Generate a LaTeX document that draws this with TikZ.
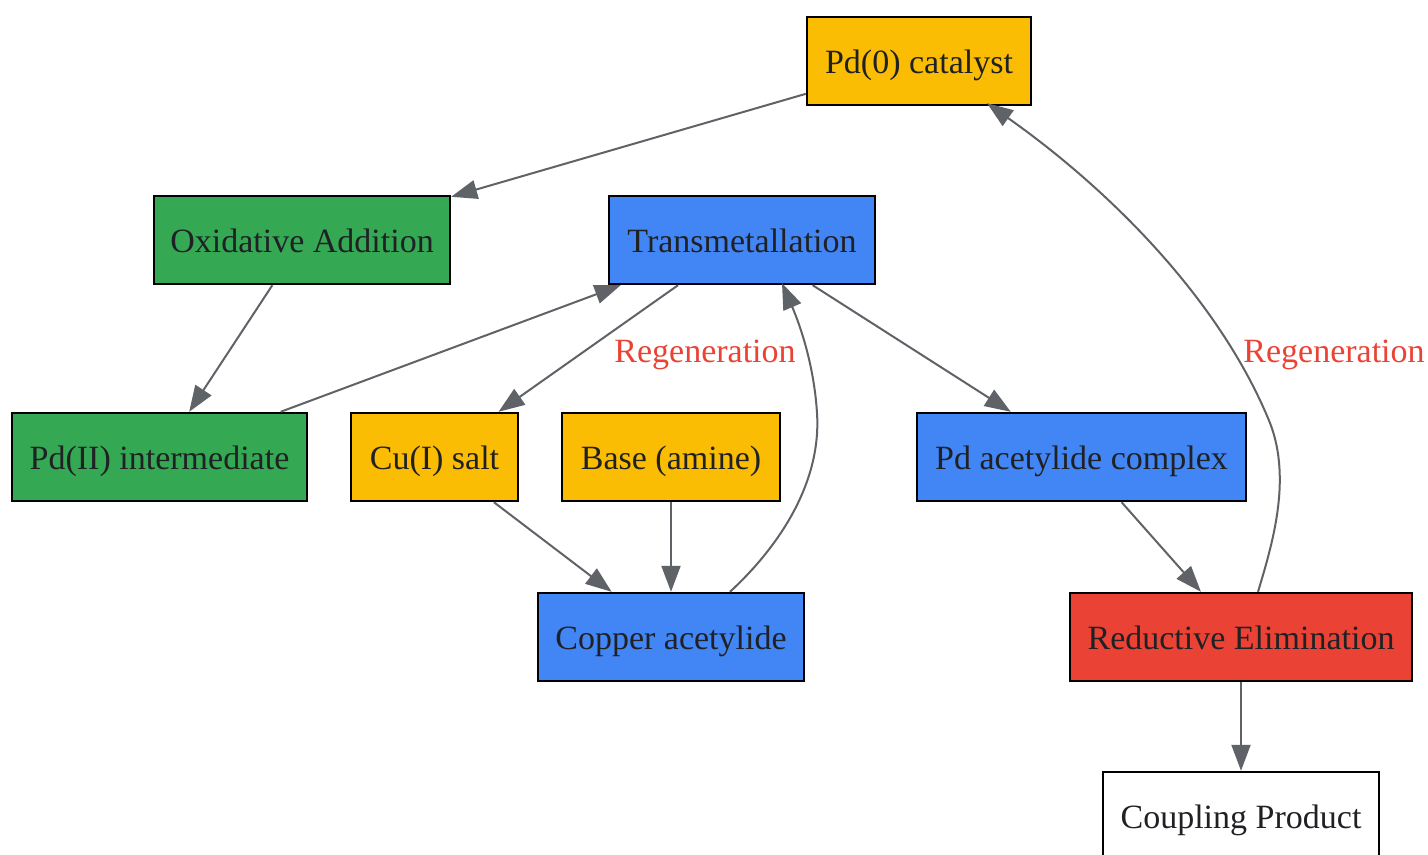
\documentclass[tikz,border=0pt]{standalone}
\usepackage{fontspec}
\setmainfont{Liberation Serif}
\usetikzlibrary{arrows.meta,calc}
\definecolor{gyellow}{HTML}{FBBC04}
\definecolor{ggreen}{HTML}{34A853}
\definecolor{gblue}{HTML}{4285F4}
\definecolor{gred}{HTML}{EA4335}
\definecolor{edgegray}{HTML}{5F6368}
\definecolor{txt}{HTML}{202124}
\tikzset{
  box/.style={draw=black, line width=1.2pt, rectangle, minimum height=44pt, inner sep=0pt,
    text height=16pt, text depth=3.6pt,
    text=txt, font=\fontsize{17}{20}\selectfont},
  conn/.style={draw=edgegray, line width=1pt, -{Triangle[length=13pt,width=9.5pt]}},
  lbl/.style={text=gred, font=\fontsize{17}{20}\selectfont, inner sep=0pt}
}
\begin{document}
\begin{tikzpicture}[x=0.5pt,y=-0.5pt]
\useasboundingbox (0,0) rectangle (1428,855);
\node[box, fill=gyellow, minimum width=112pt] (pd0) at (919,61) {Pd(0) catalyst};
\node[box, fill=ggreen, minimum width=148pt] (oxa) at (302,240) {Oxidative Addition};
\node[box, fill=gblue, minimum width=133pt] (trans) at (742,240) {Transmetallation};
\node[box, fill=ggreen, minimum width=147.5pt] (pd2) at (159.5,457) {Pd(II) intermediate};
\node[box, fill=gyellow, minimum width=83.5pt] (cu) at (434.5,457) {Cu(I) salt};
\node[box, fill=gyellow, minimum width=109pt] (base) at (671,457) {Base (amine)};
\node[box, fill=gblue, minimum width=164.5pt] (pdac) at (1081.5,457) {Pd acetylide complex};
\node[box, fill=gblue, minimum width=133pt] (cop) at (671,637) {Copper acetylide};
\node[box, fill=gred, minimum width=171pt] (red) at (1241,637) {Reductive Elimination};
\node[box, fill=white, minimum width=138pt] (prod) at (1241,816) {Coupling Product};

\draw[conn] (pd0) -- (oxa);
\draw[conn] (oxa) -- (pd2);
\draw[conn] (pd2) -- (trans);
\draw[conn] (trans) -- (cu);
\draw[conn] (cu) -- (cop);
\draw[conn] (base) -- (cop);
\draw[conn] (trans) -- (pdac);
\draw[conn] (pdac) -- (red);
\draw[conn] (red) -- (prod);

\coordinate (c7s) at ($(cop.north)+(59,0)$);
\coordinate (c7e) at ($(trans.south)+(40,-2)$);
\draw[conn] (c7s) .. controls (770,555) and (822,490) .. (817,413)
  .. controls (814,365) and (800,325) .. (c7e);

\coordinate (c10s) at ($(red.north)+(17,0)$);
\coordinate (c10e) at ($(pd0.south)+(68,-3)$);
\draw[conn] (c10s) .. controls (1272,545) and (1292,480) .. (1270,423)
  .. controls (1220,300) and (1110,190) .. (c10e);

\node[lbl] (l1) at (705,355) {Regeneration};
\node[lbl] (l2) at (1334,355) {Regeneration};
\end{tikzpicture}
\end{document}
